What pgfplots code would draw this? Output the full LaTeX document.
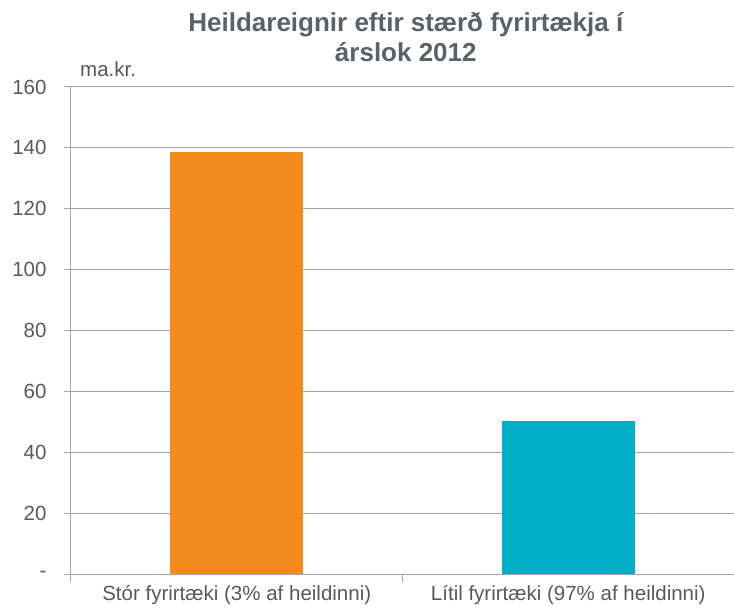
\documentclass[border=0pt]{standalone}
\usepackage{fontspec}
\setmainfont{Liberation Sans}
\usepackage{pgfplots}
\pgfplotsset{compat=1.18}
\usetikzlibrary{calc}
\definecolor{orng}{HTML}{F58B1F}
\definecolor{tealb}{HTML}{00AEC7}
\definecolor{txt}{HTML}{595959}
\definecolor{ttl}{HTML}{5B6168}
\definecolor{grd}{HTML}{A3A5A8}
\begin{document}
\begin{tikzpicture}
\begin{axis}[name=ax, scale only axis, width=663bp, height=487bp,
  xmin=-0.5, xmax=1.5, ymin=0, ymax=160,
  axis x line*=bottom, axis y line*=left,
  axis line style={draw=grd, line width=1bp, -},
  ytick={0,20,...,160}, yticklabels={-,20,40,60,80,100,120,140,160},
  xtick={0,1}, xticklabels={Stór fyrirtæki (3\% af heildinni),Lítil fyrirtæki (97\% af heildinni)},
  major x tick style={draw=none},
  minor xtick={-0.5,0.5,1.5},
  minor x tick style={draw=grd, line width=1bp},
  minor tick length=8bp,
  y tick style={draw=grd, line width=1bp},
  major tick length=7bp,
  tick align=outside,
  ymajorgrids, major grid style={draw=grd, line width=1bp},
  tick label style={font=\fontsize{20.5bp}{24bp}\selectfont, text=txt},
  yticklabel style={xshift=-14bp},
  xticklabel style={yshift=-1bp},
  title={Heildareignir eftir stærð fyrirtækja í\\árslok 2012},
  title style={align=center, font=\bfseries\fontsize{26bp}{30bp}\selectfont, text=ttl, at={(0.505,1)}, anchor=south, yshift=16bp},
  clip=false,
]
\addplot[ybar, bar width=0.4, bar shift=0, fill=orng, draw=none] coordinates {(0,138.5)};
\addplot[ybar, bar width=0.4, bar shift=0, fill=tealb, draw=none] coordinates {(1,50.2)};
\node[anchor=base west, text=txt, font=\fontsize{20.5bp}{24bp}\selectfont, inner sep=0] at ([xshift=9bp,yshift=10bp]rel axis cs:0,1) {ma.kr.};
\end{axis}
\pgfresetboundingbox
\path[use as bounding box] ($(ax.south west)+(-71bp,-35bp)$) rectangle ($(ax.north east)+(0,87bp)$);
\end{tikzpicture}
\end{document}
